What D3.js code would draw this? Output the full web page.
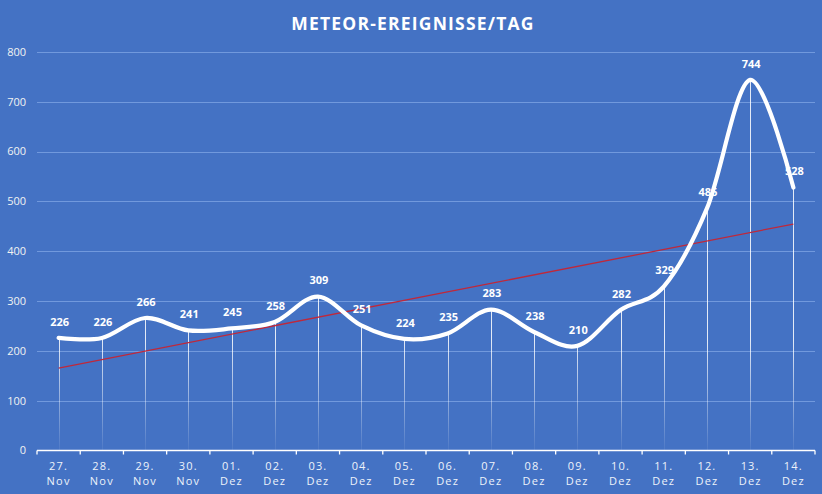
<!DOCTYPE html>
<html><head><meta charset="utf-8">
<script src="https://cdn.jsdelivr.net/npm/d3@7"></script>
<style>html,body{margin:0;padding:0;background:#4472C4;}svg{display:block;}</style>
</head><body>
<script>
const dayLabels = ["27.","28.","29.","30.","01.","02.","03.","04.","05.","06.","07.","08.","09.","10.","11.","12.","13.","14."];
const monthLabels = ["Nov","Nov","Nov","Nov","Dez","Dez","Dez","Dez","Dez","Dez","Dez","Dez","Dez","Dez","Dez","Dez","Dez","Dez"];
const events = [226,226,266,241,245,258,309,251,224,235,283,238,210,282,329,486,744,528];
const yTicks = [0,100,200,300,400,500,600,700,800];
const title = "METEOR-EREIGNISSE/TAG";

const W = 822, H = 494;
const svg = d3.select("body").append("svg").attr("width", W).attr("height", H);
svg.append("rect").attr("width", W).attr("height", H).attr("fill", "#4472C4");

const cats = dayLabels.map((d,i)=>i);
const x = d3.scaleBand().domain(cats).range([37, 815]);
const y = d3.scaleLinear().domain([0, 800]).range([450.5, 52]);
const cx = i => x(i) + x.bandwidth()/2;

// gridlines
svg.append("g").selectAll("line").data(yTicks.slice(1)).join("line")
  .attr("x1", 37).attr("x2", 815)
  .attr("y1", d => Math.round(y(d))+0.5).attr("y2", d => Math.round(y(d))+0.5)
  .attr("stroke", "#7199dd").attr("stroke-width", 1);

// y labels
svg.append("g").selectAll("text").data(yTicks).join("text")
  .attr("x", 26).attr("y", d => y(d)).attr("dy", "0.35em")
  .attr("text-anchor", "end")
  .attr("font-family", "Open Sans, Liberation Sans, sans-serif")
  .attr("font-size", 11).attr("fill", "#f2f2f2").text(d => d);

// drop lines gradient
const defs = svg.append("defs");
const grad = defs.append("linearGradient").attr("id","dg").attr("gradientUnits","userSpaceOnUse")
  .attr("x1",0).attr("y1",y(0)).attr("x2",0).attr("y2",y(0)-110);
grad.append("stop").attr("offset",0).attr("stop-color","#ffffff").attr("stop-opacity",0.05);
grad.append("stop").attr("offset",1).attr("stop-color","#ffffff").attr("stop-opacity",0.85);

svg.append("g").selectAll("line").data(events).join("line")
  .attr("x1",(d,i)=>Math.round(cx(i))+0.5).attr("x2",(d,i)=>Math.round(cx(i))+0.5)
  .attr("y1", d=>y(d)).attr("y2", y(0))
  .attr("stroke","url(#dg)").attr("stroke-width",1);

// x axis
const axisG = svg.append("g").attr("stroke","#ffffff").attr("stroke-width",1.3);
axisG.append("line").attr("x1",37).attr("x2",815).attr("y1",y(0)).attr("y2",y(0));
const bounds = d3.range(dayLabels.length+1).map(i => i < dayLabels.length ? x(i) : x(i-1)+x.bandwidth());
axisG.selectAll("line.tk").data(bounds).join("line").attr("class","tk")
  .attr("x1",d=>d).attr("x2",d=>d).attr("y1",y(0)).attr("y2",y(0)+4);

const xl = svg.append("g").attr("font-family","Open Sans, Liberation Sans, sans-serif")
  .attr("font-size",11).attr("fill","#eef2fa").attr("text-anchor","middle").attr("letter-spacing","1.2px");
xl.selectAll("text.d").data(dayLabels).join("text").attr("class","d")
  .attr("x",(d,i)=>cx(i)).attr("y",470).text(d=>d);
xl.selectAll("text.m").data(monthLabels).join("text").attr("class","m")
  .attr("x",(d,i)=>cx(i)).attr("y",485).text(d=>d);

// trend line (linear regression of events)
const n = events.length;
const mx = d3.mean(cats), my = d3.mean(events);
const slope = d3.sum(cats,(c,i)=>(c-mx)*(events[i]-my)) / d3.sum(cats,c=>(c-mx)*(c-mx));
const icpt = my - slope*mx;
svg.append("line")
  .attr("x1",cx(0)).attr("y1",y(icpt))
  .attr("x2",cx(n-1)).attr("y2",y(icpt+slope*(n-1)))
  .attr("stroke","#c0283a").attr("stroke-width",1.3);

// data labels
svg.append("g").selectAll("text").data(events).join("text")
  .attr("x",(d,i)=>cx(i)+1).attr("y",d=>y(d)-16).attr("dy","0.35em")
  .attr("text-anchor","middle")
  .attr("font-family","Open Sans, Liberation Sans, sans-serif")
  .attr("font-weight","bold").attr("font-size",11).attr("fill","#ffffff").text(d=>d);

// smooth line
const line = d3.line().x((d,i)=>cx(i)).y(d=>y(d)).curve(d3.curveCardinal.tension(0));
svg.append("path").datum(events).attr("d",line)
  .attr("fill","none").attr("stroke","#ffffff").attr("stroke-width",4.2)
  .attr("stroke-linejoin","round").attr("stroke-linecap","round");

// title
svg.append("text").attr("x",413).attr("y",24).attr("dy","0.35em").attr("text-anchor","middle")
  .attr("font-family","Open Sans, Liberation Sans, sans-serif").attr("font-weight","bold")
  .attr("font-size",17.5).attr("letter-spacing","1.2px").attr("fill","#ffffff").text(title);
</script>
</body></html>
